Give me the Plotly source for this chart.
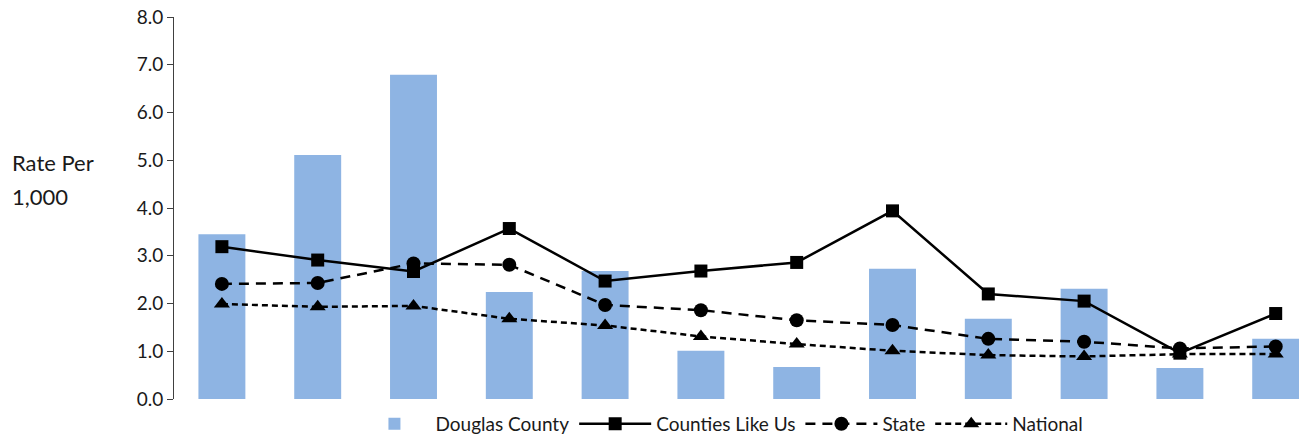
import plotly.graph_objects as go

categories = [f"C{i}" for i in range(1, 13)]
douglas = [3.45, 5.11, 6.79, 2.24, 2.68, 1.01, 0.67, 2.73, 1.68, 2.31, 0.65, 1.26]
counties = [3.19, 2.91, 2.67, 3.57, 2.47, 2.68, 2.86, 3.94, 2.20, 2.05, 0.96, 1.79]
state = [2.41, 2.43, 2.84, 2.81, 1.97, 1.86, 1.65, 1.55, 1.26, 1.20, 1.06, 1.10]
national = [1.99, 1.93, 1.95, 1.68, 1.54, 1.31, 1.15, 1.01, 0.92, 0.89, 0.94, 0.94]
y_ticks = [0, 1, 2, 3, 4, 5, 6, 7, 8]

FONT = "Lato, Carlito, Calibri, sans-serif"
xs = list(range(len(categories)))

W, H = 1299, 437
L, T, B = 174, 17, 38
plot_w = W - L

fig = go.Figure()
fig.add_trace(go.Bar(x=xs, y=douglas, name="Douglas County", marker_color="#8EB4E3",
                     marker_line_width=0, width=0.49))
fig.add_trace(go.Scatter(x=xs, y=counties, name="Counties Like Us", mode="lines+markers",
                         line=dict(color="black", width=2.5, dash="solid"),
                         marker=dict(symbol="square", size=13, color="black")))
fig.add_trace(go.Scatter(x=xs, y=state, name="State", mode="lines+markers",
                         line=dict(color="black", width=2.5, dash="10px,7px"),
                         marker=dict(symbol="circle", size=14, color="black")))
fig.add_trace(go.Scatter(x=xs, y=national, name="National", mode="lines+markers",
                         line=dict(color="black", width=2.5, dash="6px,4px"),
                         marker=dict(symbol="triangle-up", size=14, color="black")))

fig.update_layout(
    width=W, height=H,
    margin=dict(l=L, r=0, t=T, b=B, autoexpand=False),
    plot_bgcolor="white", paper_bgcolor="white",
    font=dict(family=FONT, size=19, color="#1a1a1a"),
    showlegend=True,
    legend=dict(orientation="h", x=0.555, xanchor="center", xref="container",
                y=0.030, yanchor="middle", yref="container",
                font=dict(size=19), itemwidth=72, tracegroupgap=0),
)
fig.update_xaxes(range=[-0.5, -0.5 + plot_w / 95.8], showticklabels=False, showline=False,
                 showgrid=False, zeroline=False, ticks="", automargin=False)
fig.update_yaxes(range=[0, 8], tickvals=y_ticks, tickformat=".1f", showgrid=False,
                 zeroline=False, showline=True, linecolor="#404040", linewidth=1,
                 ticks="outside", ticklen=6, tickcolor="#404040", tickfont=dict(size=19),
                 automargin=False, ticklabeloverflow="allow")
for txt, yy in [("Rate Per", 0.620), ("1,000", 0.531)]:
    fig.add_annotation(xref="paper", yref="paper", x=-(L - 10) / plot_w, y=yy,
                       xanchor="left", yanchor="middle", text=txt, showarrow=False,
                       align="left", font=dict(size=22))

fig.write_html("out.html", config={"displayModeBar": False},
               post_script="document.body.style.margin='0';document.body.style.overflow='hidden';")
